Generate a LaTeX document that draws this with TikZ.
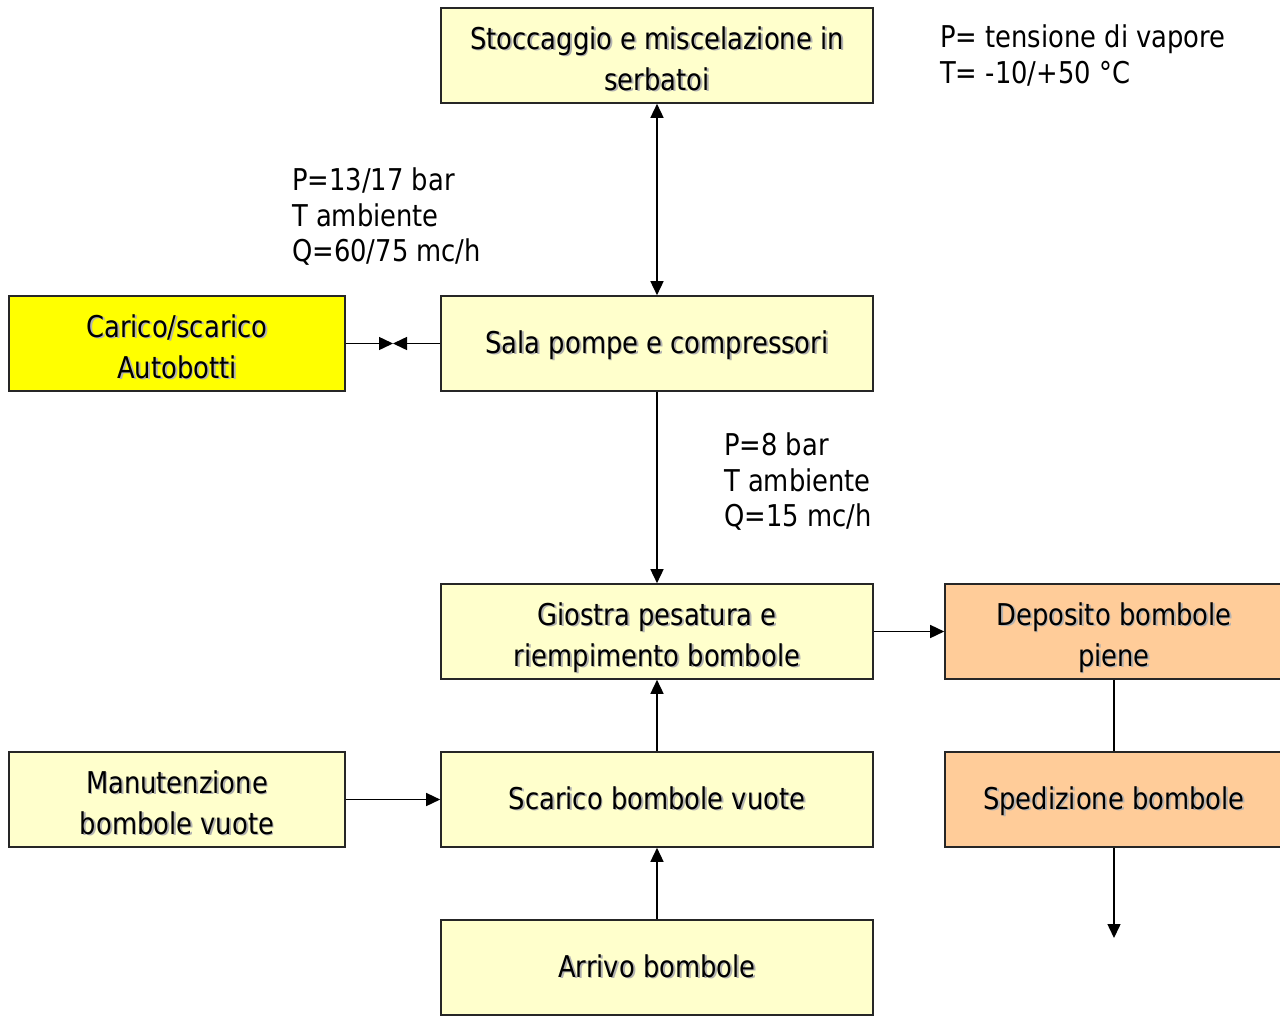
\documentclass[tikz,border=0pt]{standalone}
\usepackage{fontspec}
\setmainfont{DejaVu Sans}[FakeStretch=0.86]
\usetikzlibrary{arrows.meta}
\definecolor{boxfill}{HTML}{FFFFCC}
\definecolor{yel}{HTML}{FFFF00}
\definecolor{peach}{HTML}{FFCC99}
\newcommand{\sh}[1]{\makebox[0pt][l]{\hspace{1.8pt}\raisebox{-1.8pt}{\textcolor{black!30}{#1}}}#1}
\newcommand{\twol}[2]{\rule{0pt}{37pt}\sh{#1}\\\sh{#2}\rule[-9pt]{0pt}{9pt}}
\tikzset{
  box/.style={draw=black!85, line width=1.6pt, fill=boxfill, minimum width=432pt, minimum height=95pt,
    inner sep=0pt, align=center, font=\fontsize{30}{41}\selectfont, text=black},
  one/.style={box, execute at begin node={\rule{0pt}{28pt}}, execute at end node={\rule[-9pt]{0pt}{9pt}}},
  two/.style={box},
  conn/.style={line width=1.5pt, -{Triangle[length=14pt,width=13pt]}},
  note/.style={align=left, anchor=north west, inner sep=0pt, font=\fontsize{30}{35.5}\selectfont}
}
\begin{document}
\begin{tikzpicture}[x=1pt,y=-1pt]
\useasboundingbox (0,0) rectangle (1280,1017);
\node[two] (stock) at (657,55.5) {\twol{Stoccaggio e miscelazione in}{serbatoi}};
\node[one] (sala) at (657,343.5) {\sh{Sala pompe e compressori}};
\node[two, fill=yel, minimum width=336pt] (carico) at (177,343.5) {\twol{Carico/scarico}{Autobotti}};
\node[two] (giostra) at (657,631.5) {\twol{Giostra pesatura e}{riempimento bombole}};
\node[two, fill=peach, minimum width=338pt] (deposito) at (1114,631.5) {\twol{Deposito bombole}{piene}};
\node[two, minimum width=336pt] (manut) at (177,799.5) {\twol{Manutenzione}{bombole vuote}};
\node[one] (scarico) at (657,799.5) {\sh{Scarico bombole vuote}};
\node[one, fill=peach, minimum width=338pt] (sped) at (1114,799.5) {\sh{Spedizione bombole}};
\node[one] (arrivo) at (657,967.5) {\sh{Arrivo bombole}};
\coordinate (mid) at (393,343.5);
\coordinate (out) at (1114,938);
\draw[conn, {Triangle[length=14pt,width=13pt]}-{Triangle[length=14pt,width=13pt]}] (stock) -- (sala);
\draw[conn] (carico.east) -- (mid);
\draw[conn] (sala.west) -- (mid);
\draw[conn] (sala) -- (giostra);
\draw[conn] (giostra) -- (deposito);
\draw[line width=1.5pt] (deposito) -- (sped);
\draw[conn] (sped.south) -- (out);
\draw[conn] (scarico) -- (giostra);
\draw[conn] (manut) -- (scarico);
\draw[conn] (arrivo) -- (scarico);
\node[note] (n1) at (292,168) {P=13/17 bar\\T ambiente\\Q=60/75 mc/h};
\node[note] (n2) at (724,433) {P=8 bar\\T ambiente\\Q=15 mc/h};
\node[note] (n3) at (940,25) {P= tensione di vapore\\T= -10/+50 °C};
\end{tikzpicture}
\end{document}
